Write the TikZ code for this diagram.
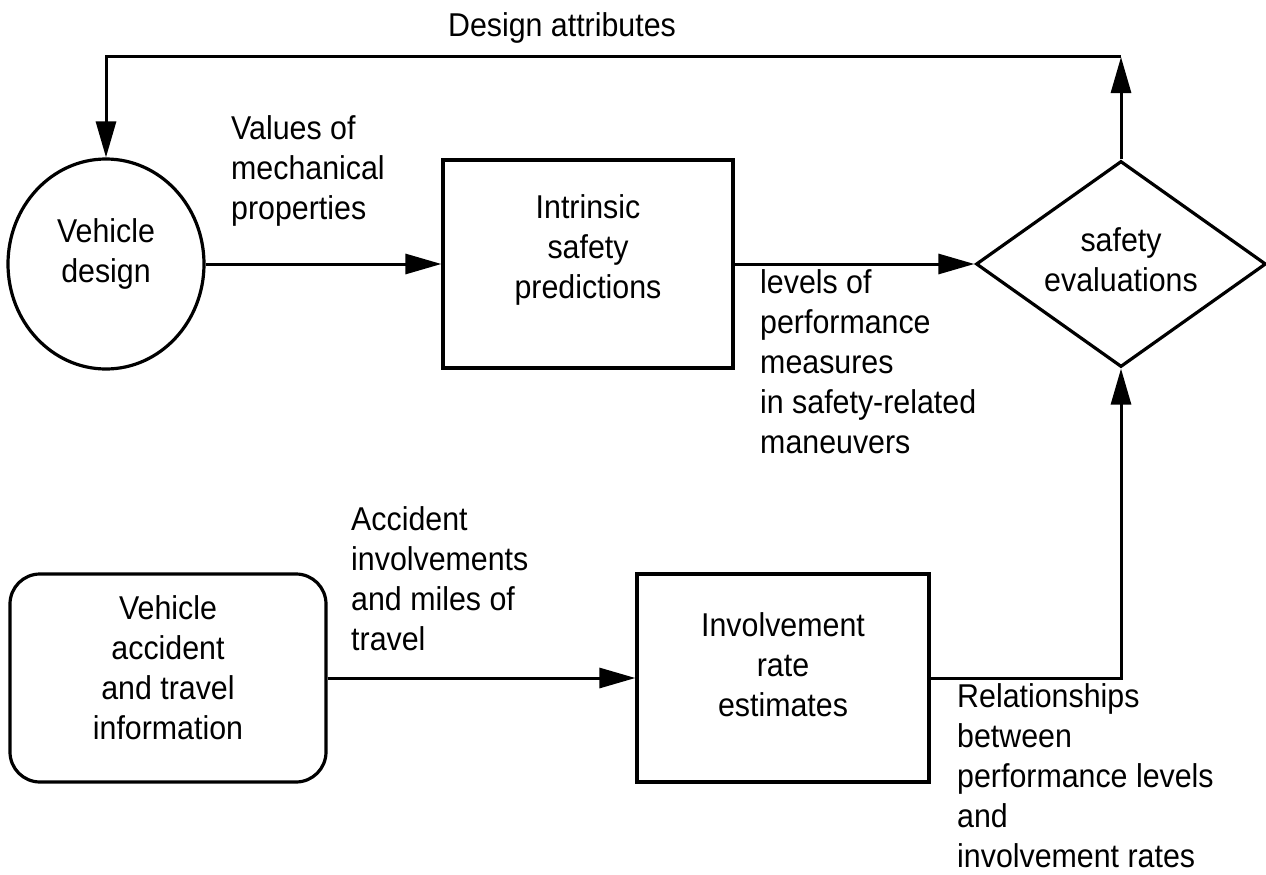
\documentclass[tikz,border=0pt]{standalone}
\usepackage{fontspec}
\setmainfont{Liberation Sans}[FakeStretch=0.92]
\usetikzlibrary{arrows.meta,shapes.geometric}

\begin{document}
\begin{tikzpicture}[x=1pt,y=-1pt,
        every node/.style={font=\fontsize{33}{40}\selectfont, inner sep=0pt},
        blk/.style={draw, line width=3.2pt, minimum width=290pt, minimum height=208pt, align=center},
        flow/.style={line width=3pt, -{Triangle[length=36pt,width=20pt]}},
        lbl/.style={anchor=north west, align=left}]
        \useasboundingbox (0,0) rectangle (1266,875);
        \node[draw, ellipse, line width=3.2pt, minimum width=196pt, minimum height=210pt, align=center, text depth=26pt] (vdesign) at (106,264) {Vehicle\\design};
        \node[blk, text depth=35pt] (intrinsic) at (588,264) {Intrinsic\\safety\\predictions};
        \node[draw, diamond, line width=3.2pt, minimum width=290pt, minimum height=206pt, shape aspect=1.4, align=center, text depth=8pt] (evals) at (1121,264) {safety\\evaluations};
        \node[blk, rounded corners=30pt, minimum width=316pt, text depth=20pt] (vatinfo) at (168,678) {Vehicle\\accident\\and travel\\information};
        \node[blk, minimum width=292pt, text depth=26pt] (rates) at (783,678) {Involvement\\rate\\estimates};
        \coordinate (cbr) at (1121,678);
        \coordinate (ctr) at (1121,57);
        \coordinate (ctl) at (106,57);
        \draw[flow] (vdesign.east) -- (intrinsic.west);
        \draw[flow] (intrinsic.east) -- (evals.west);
        \draw[flow] (vatinfo.east) -- (rates.west);
        \draw[flow] (rates.east) -- (cbr) -- (evals.south);
        \draw[flow] (evals.north) -- (ctr);
        \draw[flow] (ctr) -- (ctl) -- (vdesign.north);
        \node[anchor=base] (ldesign) at (562,37) {Design attributes};
        \node[lbl] (lvalues) at (231,115) {Values of\\mechanical\\properties};
        \node[lbl] (llevels) at (760,269) {levels of\\performance\\measures\\in safety-related\\maneuvers};
        \node[lbl] (laccid) at (351,506) {Accident\\involvements\\and miles of\\travel};
        \node[lbl] (lrelat) at (957,683) {Relationships\\between\\performance levels\\and\\involvement rates};
\end{tikzpicture}
\end{document}
